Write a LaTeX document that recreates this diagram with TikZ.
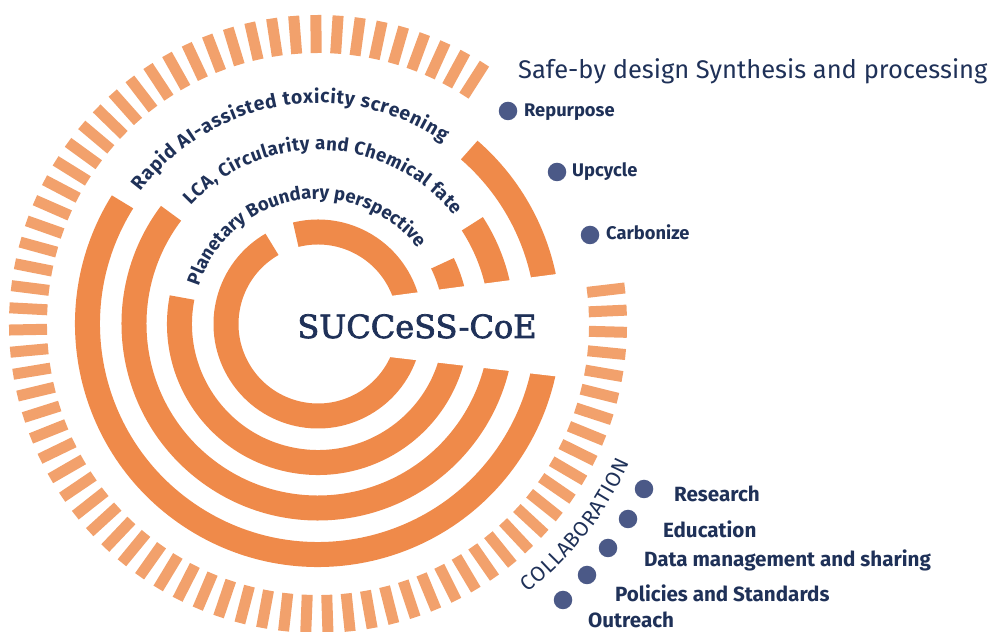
\documentclass[tikz,border=0pt]{standalone}
\usepackage{fontspec}
\setmainfont{Fira Sans}
\newfontfamily\coefont{DejaVu Serif}[BoldFont={DejaVu Serif}, BoldFeatures={FakeBold=2.2}]
\usetikzlibrary{decorations.text}
\definecolor{ringor}{HTML}{EF8A4A}
\definecolor{dashor}{HTML}{F2A16C}
\definecolor{navy}{HTML}{1F3158}
\definecolor{dotblue}{HTML}{4B5987}
\tikzset{
  ringarc/.style={draw=ringor, line width=25pt},
  dashseg/.style={draw=dashor, line width=11pt},
  bullet/.style={circle, fill=dotblue, minimum size=18.5pt, inner sep=0pt},
  itemtext/.style={anchor=base west, inner sep=0pt, text=navy, font=\bfseries\fontsize{18.3}{20}\selectfont},
  collabtext/.style={anchor=base west, inner sep=0pt, text=navy, font=\bfseries\fontsize{20.6}{22}\selectfont},
}
\begin{document}
\begin{tikzpicture}[x=1pt,y=1pt]
\useasboundingbox (0,0) rectangle (989,632);
\coordinate (C) at (318,308);

% outer dashed ring
\foreach \k in {0,...,75}{
  \pgfmathsetmacro\ang{57.4+4.124*\k}
  \draw[dashseg] ([shift={(C)}]\ang:271pt) -- ([shift={(C)}]\ang:309pt);
}

% concentric rings
\draw[ringarc] ([shift={(C)}]120:92pt) arc[start angle=120, end angle=464, radius=92pt];
\draw[ringarc] ([shift={(C)}]169:138.5pt) arc[start angle=169, end angle=386, radius=138.5pt];
\draw[ringarc] ([shift={(C)}]143:184pt) arc[start angle=143, end angle=393, radius=184pt];
\draw[ringarc] ([shift={(C)}]148:230.5pt) arc[start angle=148, end angle=409, radius=230.5pt];

% right-hand opening
\fill[white] (372,333.6) -- (575,360.4) -- (575,253.4) -- (372,277.0) -- cycle;

% curved labels
\path[decorate, decoration={text along path, text align={fit to path},
  text={|\color{navy}\bfseries\fontsize{19.3}{20}\selectfont|Rapid AI-assisted toxicity screening}}]
  ([shift={(C)}]143.2:221pt) arc[start angle=143.2, end angle=55.5, radius=221pt];
\path[decorate, decoration={text along path, text align={fit to path},
  text={|\color{navy}\bfseries\fontsize{18.6}{20}\selectfont|LCA, Circularity and Chemical fate}}]
  ([shift={(C)}]137:174pt) arc[start angle=137, end angle=38.5, radius=174pt];
\path[decorate, decoration={text along path, text align={fit to path},
  text={|\color{navy}\bfseries\fontsize{18.5}{20}\selectfont|Planetary Boundary perspective}}]
  ([shift={(C)}]162.4:125pt) arc[start angle=162.4, end angle=37, radius=125pt];
\path[decorate, decoration={text along path, text align={fit to path},
  text={|\color{navy}\fontsize{21}{21}\selectfont|COLLABORATION}}]
  ([shift={(C)}]-52:341pt) arc[start angle=-52, end angle=-24, radius=341pt];

% centre title
\node[anchor=base, inner sep=0pt, text=navy, font=\coefont\bfseries\fontsize{32}{32}\selectfont] (title) at (417,294) {SUCCeSS-CoE};

% synthesis block
\node[anchor=base west, inner sep=0pt, text=navy, font=\fontsize{25.5}{27}\selectfont] (safe) at (518,553) {Safe-by design Synthesis and processing};
\node[bullet] (b1) at (508,521) {};
\node[itemtext] (t1) at (524,515) {Repurpose};
\node[bullet] (b2) at (557,460) {};
\node[itemtext] (t2) at (572,455) {Upcycle};
\node[bullet] (b3) at (590,397) {};
\node[itemtext] (t3) at (606,392) {Carbonize};

% collaboration block
\node[bullet] (c1) at (644,143) {};
\node[collabtext] (u1) at (674,130) {Research};
\node[bullet] (c2) at (628,113) {};
\node[collabtext] (u2) at (663,94) {Education};
\node[bullet] (c3) at (608,84) {};
\node[collabtext] (u3) at (644,65) {Data management and sharing};
\node[bullet] (c4) at (587,57) {};
\node[collabtext] (u4) at (615,30) {Policies and Standards};
\node[bullet] (c5) at (563,32) {};
\node[collabtext] (u5) at (588,4) {Outreach};
\end{tikzpicture}
\end{document}
